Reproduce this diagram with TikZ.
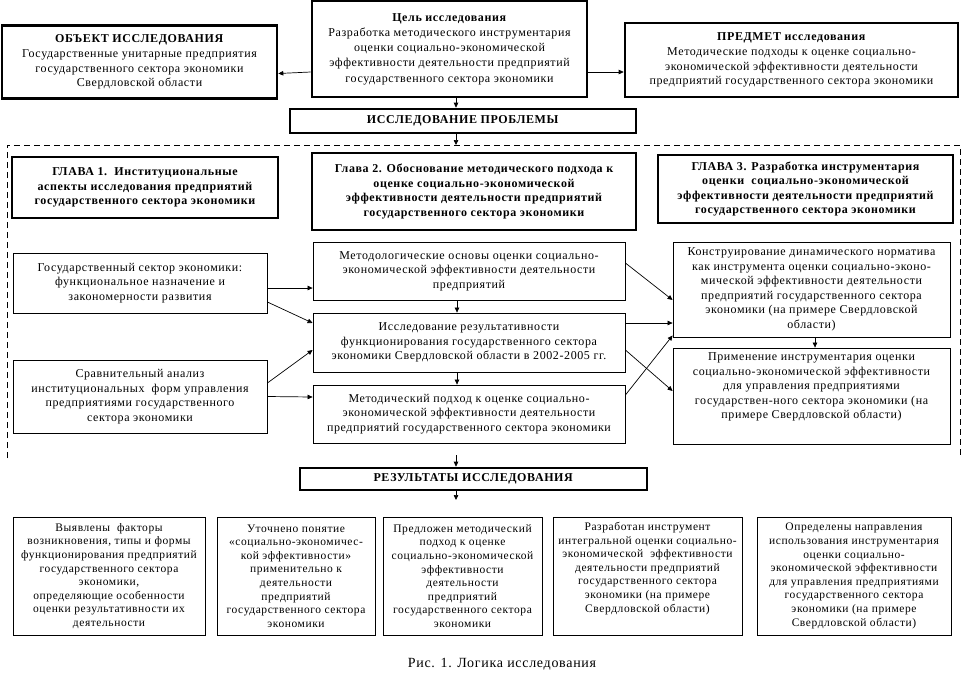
\documentclass[tikz,border=0pt]{standalone}
\usepackage{fontspec}
\setmainfont{Liberation Serif}[LetterSpace=5]
\usetikzlibrary{arrows.meta}
\tikzset{
  thickbox/.style={draw, line width=2.6pt, align=center, inner sep=1pt, font=\fontsize{12}{14.8}\selectfont},
  thinbox/.style={draw, line width=0.8pt, align=center, inner sep=1pt, font=\fontsize{12}{14.5}\selectfont},
  smallbox/.style={draw, line width=0.8pt, align=center, inner sep=1pt, font=\fontsize{11.5}{13.6}\selectfont},
  arr/.style={-{Triangle[length=5pt,width=4.5pt]}, line width=0.7pt},
  frameline/.style={line width=0.8pt, dash pattern=on 6pt off 4pt}
}
\begin{document}
\begin{tikzpicture}[x=1pt,y=-1pt]
\useasboundingbox (0,0) rectangle (963,686);
% top row
\node[thickbox, minimum width=275pt, minimum height=73pt] (obj) at (139.5,62)
 {\textbf{ОБЪЕКТ ИССЛЕДОВАНИЯ}\\Государственные унитарные предприятия\\государственного сектора экономики\\Свердловской области};
\node[thickbox, font=\fontsize{12}{15.2}\selectfont, minimum width=275pt, minimum height=96pt] (goal) at (449.5,49)
 {\textbf{Цель исследования}\\Разработка методического инструментария\\оценки социально-экономической\\эффективности деятельности предприятий\\государственного сектора экономики};
\node[thickbox, minimum width=333pt, minimum height=74pt] (pred) at (791.5,60)
 {\textbf{ПРЕДМЕТ исследования}\\Методические подходы к оценке социально-\\экономической эффективности деятельности\\предприятий государственного сектора экономики};
\node[thickbox, minimum width=346pt, minimum height=24pt] (prob) at (463,121)
 {\textbf{ИССЛЕДОВАНИЕ ПРОБЛЕМЫ}};
% dashed frame
\coordinate (fbl) at (7,458);
\coordinate (ftl) at (7,145);
\coordinate (ftr) at (960,145);
\coordinate (fbr) at (960,458);
\coordinate (ft) at (456,145);
\coordinate (fb) at (456,455);
\draw[frameline] (fbl) -- (ftl) -- (ftr) -- (fbr);
% chapters
\node[thickbox, font=\bfseries\fontsize{12}{14.5}\selectfont, minimum width=266pt, minimum height=61pt] (ch1) at (145,187.5)
 {ГЛАВА 1.\ \ Институциональные\\аспекты исследования предприятий\\государственного сектора экономики};
\node[thickbox, font=\bfseries\fontsize{12}{14.5}\selectfont, minimum width=324pt, minimum height=77pt] (ch2) at (474,191.5)
 {Глава 2. Обоснование методического подхода к\\оценке социально-экономической\\эффективности деятельности предприятий\\государственного сектора экономики};
\node[thickbox, font=\bfseries\fontsize{12}{14.5}\selectfont, minimum width=295pt, minimum height=68pt] (ch3) at (805.5,189)
 {ГЛАВА 3. Разработка инструментария\\оценки\ \ социально-экономической\\эффективности деятельности предприятий\\государственного сектора экономики};
% middle boxes
\node[thinbox, minimum width=254pt, minimum height=60pt] (gos) at (140,283)
 {Государственный сектор экономики:\\функциональное назначение и\\закономерности развития};
\node[thinbox, minimum width=254pt, minimum height=73pt] (srav) at (140,396.5)
 {Сравнительный анализ\\институциональных\ \ форм управления\\предприятиями государственного\\сектора экономики};
\node[thinbox, minimum width=312pt, minimum height=58pt] (metol) at (469,271)
 {Методологические основы оценки социально-\\экономической эффективности деятельности\\предприятий};
\node[thinbox, minimum width=312pt, minimum height=59pt] (issl) at (469,342.5)
 {Исследование результативности\\функционирования государственного сектора\\экономики Свердловской области в 2002-2005 гг.};
\node[thinbox, minimum width=312pt, minimum height=58pt] (metod) at (469,414)
 {Методический подход к оценке социально-\\экономической эффективности деятельности\\предприятий государственного сектора экономики};
\node[thinbox, minimum width=277pt, minimum height=95pt] (konst) at (811.5,289.5)
 {Конструирование динамического норматива\\как инструмента оценки социально-эконо-\\мической эффективности деятельности\\предприятий государственного сектора\\экономики (на примере Свердловской\\области)};
\node[thinbox, minimum width=277pt, minimum height=96pt] (prim) at (811.5,396)
 {Применение инструментария оценки\\социально-экономической эффективности\\для управления предприятиями\\государствен-ного сектора экономики (на\\примере Свердловской области)\\[6pt]};
% results
\node[thickbox, minimum width=347pt, minimum height=22pt] (res) at (473.5,479)
 {\textbf{РЕЗУЛЬТАТЫ ИССЛЕДОВАНИЯ}};
\coordinate (resend) at (456,500);
\node[smallbox, minimum width=192pt, minimum height=118pt] (b1) at (109,576)
 {Выявлены\ \ факторы\\возникновения, типы и формы\\функционирования предприятий\\государственного сектора\\экономики,\\определяющие особенности\\оценки результативности их\\деятельности};
\node[smallbox, minimum width=158pt, minimum height=118pt] (b2) at (296,576)
 {Уточнено понятие\\«социально-экономичес-\\кой эффективности»\\применительно к\\деятельности\\предприятий\\государственного сектора\\экономики};
\node[smallbox, minimum width=159pt, minimum height=118pt] (b3) at (462.5,576)
 {Предложен методический\\подход к оценке\\социально-экономической\\эффективности\\деятельности\\предприятий\\государственного сектора\\экономики};
\node[smallbox, minimum width=189pt, minimum height=118pt] (b4) at (647.5,576)
 {Разработан инструмент\\интегральной оценки социально-\\экономической\ \ эффективности\\деятельности предприятий\\государственного сектора\\экономики (на примере\\Свердловской области)\\[4pt]};
\node[smallbox, minimum width=194pt, minimum height=118pt] (b5) at (854,576)
 {Определены направления\\использования инструментария\\оценки социально-\\экономической эффективности\\для управления предприятиями\\государственного сектора\\экономики (на примере\\Свердловской области)};
\node[font=\fontsize{14}{16}\selectfont] (cap) at (502,664) {Рис. 1. Логика исследования};
% arrows top
\draw[arr] ([yshift=-23pt]goal.west) -- ([yshift=-11.5pt]obj.east);
\draw[arr] ([yshift=-23pt]goal.east) -- ([yshift=-12pt]pred.west);
\draw[arr] ([xshift=6.5pt]goal.south) -- ([xshift=-7pt]prob.north);
\draw[arr] ([xshift=-7pt]prob.south) -- (ft);
% arrows middle
\draw[arr] ([yshift=-5pt]gos.east) -- ([yshift=-17pt]metol.west);
\draw[arr] ([yshift=-19pt]gos.east) -- ([yshift=19.5pt]issl.west);
\draw[arr] ([yshift=13.5pt]srav.east) -- ([yshift=-7.5pt]issl.west);
\draw[arr] ([yshift=0pt]srav.east) -- ([yshift=17pt]metod.west);
\draw[arr] ([xshift=-12pt]metol.south) -- ([xshift=-12pt]issl.north);
\draw[arr] ([xshift=-12pt]issl.south) -- ([xshift=-12pt]metod.north);
\draw[arr] ([yshift=8pt]metol.east) -- ([yshift=-10.5pt]konst.west);
\draw[arr] ([yshift=19.5pt]issl.east) -- ([yshift=-33.5pt]konst.west);
\draw[arr] ([yshift=-7.5pt]issl.east) -- ([yshift=5pt]prim.west);
\draw[arr] ([yshift=19pt]metod.east) -- ([yshift=-46pt]konst.west);
\draw[arr] ([xshift=3.5pt]konst.south) -- ([xshift=3.5pt]prim.north);
% arrows bottom
\draw[arr] (fb) -- ([xshift=-17.5pt]res.north);
\draw[arr] ([xshift=-17.5pt]res.south) -- (resend);
\end{tikzpicture}
\end{document}
